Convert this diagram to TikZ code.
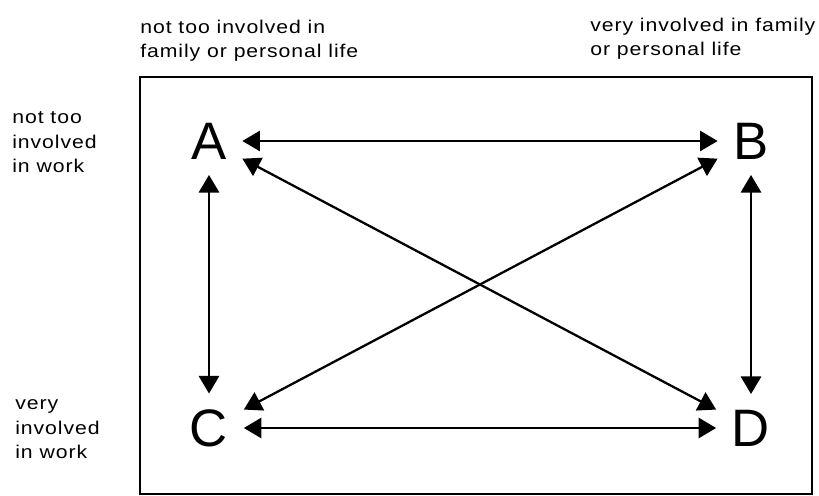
\documentclass[tikz,border=0pt]{standalone}
\usepackage{fontspec}
\setmainfont{Liberation Sans}
\newfontfamily\lblfont[FakeStretch=1.15,LetterSpace=5]{Liberation Sans}
\usetikzlibrary{arrows.meta}

\begin{document}
\begin{tikzpicture}[x=0.02cm, y=-0.02cm,
    corner/.style={font=\fontsize{30}{30}\selectfont, inner sep=8.8pt},
    lbl/.style={font=\lblfont\fontsize{10.5}{14}\selectfont, align=left, anchor=base west, inner sep=0pt},
    link/.style={>={Triangle[length=10pt,width=11.5pt]}, <->, line width=1.3pt}]
  \useasboundingbox (0,0) rectangle (819,496);

  % frame
  \draw[line width=1.3pt] (140,77) rectangle (812,494);

  % labels round the frame (placed at the last line)
  \node[lbl] (famlow) at (140,58) {not too involved in\\family or personal life};
  \node[lbl] (famhigh) at (590,56) {very involved in family\\or personal life};
  \node[lbl] (worklow) at (12,173) {not too\\involved\\in work};
  \node[lbl] (workhigh) at (15,459) {very\\involved\\in work};

  % the four corners
  \node[corner] (A) at (209,141) {A};
  \node[corner] (B) at (751,141) {B};
  \node[corner] (C) at (209,428) {C};
  \node[corner] (D) at (751,428) {D};

  % two-way arrows
  \draw[link] (A) -- (B);
  \draw[link] (C) -- (D);
  \draw[link] (A) -- (C);
  \draw[link] (B) -- (D);
  \draw[link] (A) -- (D);
  \draw[link] (C) -- (B);
\end{tikzpicture}
\end{document}
